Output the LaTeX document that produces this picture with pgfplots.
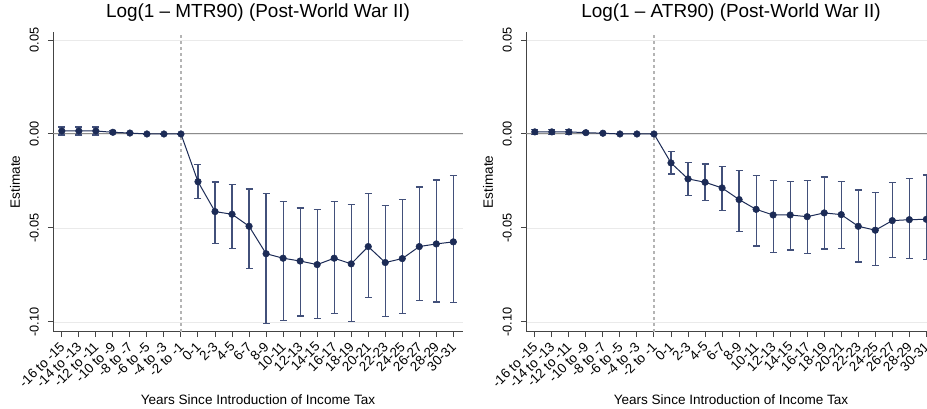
\documentclass[border=0pt]{standalone}
\usepackage{pgfplots}
\pgfplotsset{compat=1.18}
\usepackage{pgfplotstable}
\usepackage{fontspec}
\setmainfont{Liberation Sans}
\definecolor{navyd}{HTML}{1C2B56}
\definecolor{cibar}{HTML}{42507A}
\definecolor{gridc}{HTML}{EAEAEA}
\definecolor{zeroc}{HTML}{8C8C8C}
\definecolor{dashc}{HTML}{B4B4B4}
\definecolor{axc}{HTML}{444444}

\pgfplotstableread{
x y lo hi
0 0.0016 -0.0005 0.0037
1 0.0016 -0.0005 0.0037
2 0.0016 -0.0005 0.0037
3 0.0009 0.0001 0.0017
4 0.0005 0.0001 0.0009
5 0 0 0
6 0 0 0
7 0 0 0
8 -0.0254 -0.0342 -0.0161
9 -0.0413 -0.0582 -0.0255
10 -0.0427 -0.0608 -0.0268
11 -0.0491 -0.0715 -0.0293
12 -0.0637 -0.1007 -0.0317
13 -0.0661 -0.0993 -0.0360
14 -0.0676 -0.0968 -0.0394
15 -0.0695 -0.0982 -0.0402
16 -0.0661 -0.0954 -0.0360
17 -0.0691 -0.0999 -0.0374
18 -0.0599 -0.0870 -0.0317
19 -0.0684 -0.0972 -0.0381
20 -0.0663 -0.0954 -0.0348
21 -0.0599 -0.0885 -0.0282
22 -0.0585 -0.0894 -0.0245
23 -0.0574 -0.0897 -0.0220
}\mtr

\pgfplotstableread{
x y lo hi
0 0.0011 -0.0001 0.0023
1 0.0011 -0.0001 0.0023
2 0.0011 -0.0001 0.0023
3 0.0007 0.0002 0.0012
4 0.0004 0.0001 0.0007
5 0 0 0
6 0 0 0
7 0 0 0
8 -0.0154 -0.0213 -0.0094
9 -0.0239 -0.0328 -0.0152
10 -0.0257 -0.0356 -0.0160
11 -0.0287 -0.0408 -0.0172
12 -0.0349 -0.0520 -0.0193
13 -0.0401 -0.0596 -0.0220
14 -0.0431 -0.0631 -0.0246
15 -0.0431 -0.0617 -0.0252
16 -0.0440 -0.0635 -0.0246
17 -0.0420 -0.0612 -0.0229
18 -0.0429 -0.0610 -0.0252
19 -0.0491 -0.0681 -0.0298
20 -0.0512 -0.0701 -0.0312
21 -0.0461 -0.0656 -0.0257
22 -0.0456 -0.0661 -0.0238
23 -0.0454 -0.0668 -0.0218
}\atr

\pgfplotsset{
  panel/.style={
    scale only axis, width=409.4bp, height=299.4bp,
    xmin=-0.5, xmax=23.55, ymin=-0.1052, ymax=0.0541,
    axis x line*=bottom, axis y line*=left,
    axis line style={color=axc, line width=1.1bp, -},
    xtick={0,...,23},
    xticklabels={-16 to -15,-14 to -13,-12 to -11,-10 to -9,-8 to -7,-6 to -5,-4 to -3,-2 to -1,0-1,2-3,4-5,6-7,8-9,10-11,12-13,14-15,16-17,18-19,20-21,22-23,24-25,26-27,28-29,30-31},
    ytick={-0.1,-0.05,0,0.05},
    yticklabels={-0.10,-0.05,0.00,0.05},
    tick align=outside, major tick length=5.5bp,
    tick style={color=axc, line width=1bp},
    xticklabel style={font=\fontsize{13.5}{13.5}\selectfont, yshift=-3.6bp, xshift=-3bp, rotate=45, anchor=north east, inner sep=0pt},
    yticklabel style={font=\fontsize{12.8}{12.8}\selectfont, xshift=-7.8bp, rotate=90, anchor=south, inner sep=1bp},
    ymajorgrids, grid style={color=gridc, line width=0.8bp},
    title style={font=\fontsize{19}{19}\selectfont, at={(axis description cs:0.5,1.030)}, anchor=base},
    xlabel style={font=\fontsize{13.6}{13.6}\selectfont, at={(axis description cs:0.5,-0.2415)}, anchor=base},
    ylabel style={font=\fontsize{13.6}{13.6}\selectfont, at={(axis description cs:-0.0935,0.5)}, anchor=center},
    xlabel={Years Since Introduction of Income Tax},
    ylabel={Estimate},
    clip=false,
  },
  cis/.style={draw=none, mark=none, forget plot,
    error bars/.cd, y dir=both, y explicit,
    error bar style={color=cibar, line width=1.2bp},
    error mark options={rotate=90, mark size=3.5bp, color=cibar, line width=1.2bp}},
  est/.style={color=navyd, line width=1bp, mark=*, mark size=3.3bp, mark options={fill=navyd, draw=navyd, line width=0.5bp}},
}

\begin{document}
\begin{tikzpicture}
\useasboundingbox (0,0) rectangle (927bp,409bp);
\begin{axis}[panel, at={(53.3bp,77.3bp)}, anchor=south west,
  title={Log(1 – MTR90) (Post-World War II)}]
\addplot[zeroc, line width=1bp, forget plot] coordinates {(-0.5,0) (23.55,0)};
\addplot[dashc, line width=1.2bp, dash pattern=on 3bp off 3bp, forget plot] coordinates {(7,-0.1052) (7,0.0541)};
\addplot[cis] table[x=x, y=y, y error plus expr=\thisrow{hi}-\thisrow{y}, y error minus expr=\thisrow{y}-\thisrow{lo}] {\mtr};
\addplot[est] table[x=x, y=y] {\mtr};
\end{axis}
\begin{axis}[panel, at={(526.3bp,77.3bp)}, anchor=south west,
  title={Log(1 – ATR90) (Post-World War II)}]
\addplot[zeroc, line width=1bp, forget plot] coordinates {(-0.5,0) (23.55,0)};
\addplot[dashc, line width=1.2bp, dash pattern=on 3bp off 3bp, forget plot] coordinates {(7,-0.1052) (7,0.0541)};
\addplot[cis] table[x=x, y=y, y error plus expr=\thisrow{hi}-\thisrow{y}, y error minus expr=\thisrow{y}-\thisrow{lo}] {\atr};
\addplot[est] table[x=x, y=y] {\atr};
\end{axis}
\end{tikzpicture}
\end{document}
